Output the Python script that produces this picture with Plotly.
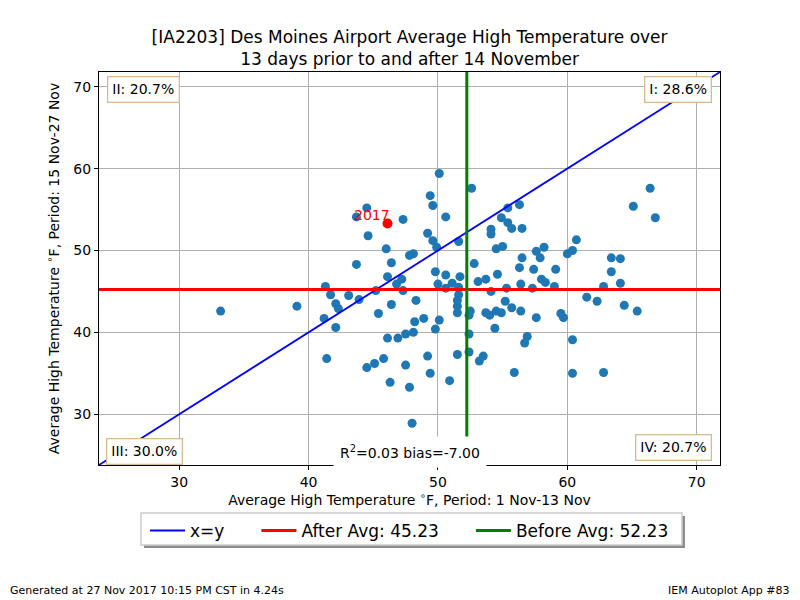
import plotly.graph_objects as go

# Average high temperature (F): before period (1-13 Nov) and after (15-27 Nov)
before_temps = [
    33.2, 39.1, 41.2, 41.3, 41.4, 41.7, 42.1, 42.3, 42.1, 43.1,
    43.7, 43.7, 43.9, 44.5, 44.6, 44.5, 45.1, 45.2, 45.4, 45.8,
    46.0, 46.1, 46.1, 46.3, 46.4, 46.4, 46.8, 46.9, 47.2, 47.3,
    47.3, 47.5, 47.5, 47.8, 47.8, 48.0, 48.1, 48.1, 48.2, 48.3,
    48.9, 49.2, 49.2, 49.4, 49.4, 49.6, 49.6, 49.8, 49.8, 49.9,
    50.0, 50.1, 50.1, 50.6, 50.6, 50.6, 50.9, 51.1, 51.6, 51.6,
    51.5, 51.5, 51.5, 51.5, 51.6, 51.7, 52.5, 52.4, 52.4, 52.4,
    52.6, 52.8, 53.1, 53.2, 53.5, 53.7, 53.7, 54.0, 54.1, 54.1,
    54.1, 54.4, 54.5, 54.6, 54.5, 54.9, 54.9, 55.0, 55.2, 55.3,
    55.4, 55.4, 55.7, 55.7, 55.9, 56.3, 56.3, 56.4, 56.4, 56.5,
    56.5, 56.7, 56.9, 57.3, 57.4, 57.6, 57.6, 57.9, 58.0, 58.2,
    58.3, 59.0, 59.1, 59.5, 59.7, 60.0, 60.4, 60.4, 60.4, 60.7,
    61.5, 62.3, 62.8, 62.8, 63.4, 63.4, 64.1, 64.1, 64.4, 65.1,
    65.4, 66.4, 66.8,
]
after_temps = [
    42.6, 43.2, 41.7, 45.6, 36.8, 44.6, 43.5, 42.9, 40.6, 44.5,
    54.1, 48.3, 44.0, 55.2, 51.8, 35.7, 36.2, 45.1, 42.3, 36.8,
    50.2, 46.8, 39.3, 33.9, 43.4, 48.5, 45.9, 39.3, 46.5, 53.8,
    45.1, 36.0, 39.8, 49.4, 33.3, 28.9, 49.6, 40.0, 41.3, 43.9,
    41.7, 52.1, 37.1, 56.7, 35.0, 55.5, 51.2, 47.4, 40.4, 50.4,
    45.9, 59.4, 41.5, 54.1, 47.0, 45.4, 34.1, 46.0, 45.5, 44.6,
    43.9, 43.2, 42.4, 37.3, 51.1, 46.8, 42.6, 42.1, 39.8, 37.6,
    57.6, 48.4, 46.2, 36.5, 37.1, 46.5, 42.4, 42.1, 52.6, 52.0,
    45.0, 40.5, 50.2, 47.1, 42.6, 54.0, 42.4, 50.5, 43.8, 45.4,
    55.2, 53.4, 52.7, 43.0, 35.1, 55.6, 47.9, 45.9, 42.6, 52.7,
    49.1, 38.7, 39.5, 45.4, 47.7, 49.9, 41.8, 49.1, 46.5, 50.4,
    46.1, 45.6, 47.7, 42.3, 41.8, 49.6, 50.0, 39.1, 35.0, 51.3,
    44.3, 43.8, 45.6, 35.1, 49.1, 47.4, 49.0, 46.0, 43.3, 55.4,
    42.6, 57.6, 54.0,
]

this_year = "2017"
this_before = 46.1
this_after = 53.3

before_avg = 52.23
after_avg = 45.23
axis_range = [23.8, 71.8]

quadrant_labels = ["I: 28.6%", "II: 20.7%", "III: 30.0%", "IV: 20.7%"]
stats_label = "R<sup>2</sup>=0.03 bias=-7.00"

font = "DejaVu Sans"
pad = "\u00a0" * 5  # extra room between legend entries

fig = go.Figure()

fig.add_trace(go.Scatter(
    x=before_temps, y=after_temps, mode="markers",
    marker=dict(color="#1f77b4", size=9),
    showlegend=False, hoverinfo="skip",
))
fig.add_trace(go.Scatter(
    x=[this_before], y=[this_after], mode="markers",
    marker=dict(color="red", size=10),
    showlegend=False,
))

# reference lines
fig.add_trace(go.Scatter(
    x=axis_range, y=axis_range, mode="lines",
    line=dict(color="blue", width=1.8), name="x=y" + pad,
))
fig.add_trace(go.Scatter(
    x=axis_range, y=[after_avg, after_avg], mode="lines",
    line=dict(color="red", width=3), name="After Avg: %.2f" % after_avg + pad,
))
fig.add_trace(go.Scatter(
    x=[before_avg, before_avg], y=axis_range, mode="lines",
    line=dict(color="green", width=3), name="Before Avg: %.2f" % before_avg,
))

box = dict(bgcolor="white", bordercolor="#dbb98f", borderwidth=1.3, borderpad=4,
           showarrow=False, font=dict(size=14, color="black"))
fig.add_annotation(text=quadrant_labels[0], xref="paper", yref="paper", x=0.987, y=0.99,
                   xanchor="right", yanchor="top", **box)
fig.add_annotation(text=quadrant_labels[1], xref="paper", yref="paper", x=0.013, y=0.99,
                   xanchor="left", yanchor="top", **box)
fig.add_annotation(text=quadrant_labels[2], xref="paper", yref="paper", x=0.012, y=0.0,
                   xanchor="left", yanchor="bottom", **box)
fig.add_annotation(text=quadrant_labels[3], xref="paper", yref="paper", x=0.987, y=0.01,
                   xanchor="right", yanchor="bottom", **box)
fig.add_annotation(text=stats_label, xref="paper", yref="paper", x=0.5, y=-0.008,
                   xanchor="center", yanchor="bottom", showarrow=False,
                   bgcolor="white", borderpad=6, font=dict(size=14, color="black"))
fig.add_annotation(text=this_year, x=this_before, y=this_after, xanchor="right",
                   yanchor="bottom", showarrow=False, xshift=4, yshift=-2,
                   font=dict(size=14, color="red"))

fig.add_annotation(text="Generated at 27 Nov 2017 10:15 PM CST in 4.24s", xref="paper",
                   yref="paper", x=-0.1465, y=-0.3206, xanchor="left", yanchor="middle",
                   showarrow=False, font=dict(size=11, color="black"))
fig.add_annotation(text="IEM Autoplot App #83", xref="paper", yref="paper", x=1.116,
                   y=-0.3206, xanchor="right", yanchor="middle", showarrow=False,
                   font=dict(size=11, color="black"))

# legend frame with drop shadow (drawn as shapes, legend itself is transparent)
fig.add_shape(type="rect", xref="paper", yref="paper", x0=0.0725, x1=0.9436,
              y0=-0.2112, y1=-0.1298, fillcolor="#8c8c8c", line=dict(width=0), layer="above")
fig.add_shape(type="rect", xref="paper", yref="paper", x0=0.0676, x1=0.9388,
              y0=-0.2036, y1=-0.1221, fillcolor="white", line=dict(color="#cccccc", width=1.5),
              layer="above")

axis = dict(range=axis_range, dtick=10, showgrid=True, gridcolor="#b0b0b0", gridwidth=1,
            showline=True, linecolor="black", linewidth=1, mirror=True,
            ticks="outside", ticklen=4, tickcolor="black", zeroline=False,
            automargin=False, tickfont=dict(size=14, color="black"))
fig.update_xaxes(title=dict(text="Average High Temperature <sup>∘</sup>F, Period: 1 Nov-13 Nov",
                            font=dict(size=14, color="black"), standoff=6), **axis)
fig.update_yaxes(title=dict(text="Average High Temperature <sup>∘</sup>F, Period: 15 Nov-27 Nov",
                            font=dict(size=14, color="black"), standoff=10), **axis)

fig.update_layout(
    width=800, height=600,
    margin=dict(l=99, r=80, t=72, b=135, autoexpand=False),
    paper_bgcolor="white", plot_bgcolor="white",
    font=dict(family=font, color="black"),
    title=dict(text="[IA2203] Des Moines Airport Average High Temperature over<br>"
                    "13 days prior to and after 14 November",
               x=0.512, xanchor="center", y=0.928, yanchor="top",
               font=dict(size=17, color="black")),
    legend=dict(orientation="h", x=0.5, xanchor="center", y=-0.122, yanchor="top",
                borderwidth=0, bgcolor="rgba(0,0,0,0)",
                font=dict(size=17, color="black"), itemwidth=35),
)

fig.write_html("out.html", config={"displayModeBar": False},
               post_script="document.body.style.margin='0';")
